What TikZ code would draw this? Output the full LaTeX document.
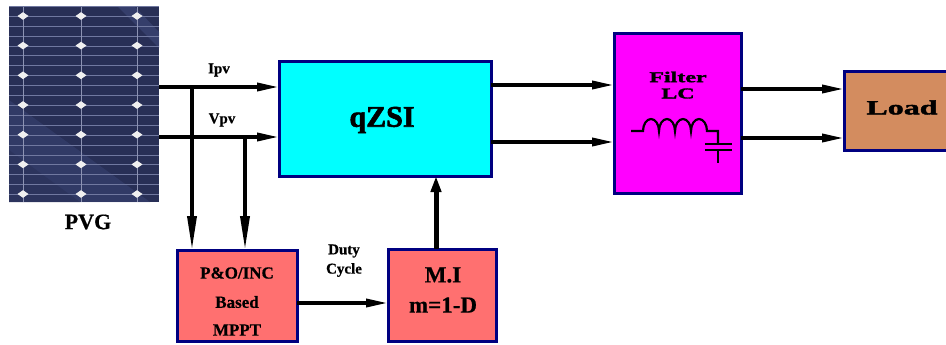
\documentclass[tikz,border=0pt]{standalone}
\usepackage{fontspec}
\usepackage{graphicx}
\setmainfont{Liberation Serif}[BoldFeatures={FakeBold=0.6}]
\newfontfamily\heavyfont{Liberation Serif}[BoldFeatures={FakeBold=2}]
\newfontfamily\wideheavy{Liberation Serif}[BoldFeatures={FakeBold=2.2,FakeStretch=1.6}]
\usetikzlibrary{arrows.meta,calc}
\definecolor{navy}{RGB}{0,0,128}
\definecolor{panelc}{RGB}{40,47,86}
\definecolor{panellight}{RGB}{62,72,122}
\definecolor{gridc}{RGB}{112,120,160}
\definecolor{qcyan}{RGB}{0,255,255}
\definecolor{fmag}{RGB}{255,0,255}
\definecolor{salmonc}{RGB}{255,112,112}
\definecolor{loadc}{RGB}{211,140,95}
\begin{document}
\begin{tikzpicture}[x=1pt,y=-1pt,
  block/.style={draw=navy,line width=3pt,inner sep=0pt,outer sep=0pt},
  wire/.style={line width=3.5pt,-{Triangle[length=22pt,width=8pt]}},
  downwire/.style={line width=3.5pt,-{Triangle[length=34pt,width=9pt]}},
  upwire/.style={line width=5pt,-{Triangle[length=16pt,width=10pt]}},
  txt/.style={font=\bfseries\fontsize{#1}{#1}\selectfont,inner sep=0pt,align=center},
  txt/.default=15]
\fill[white] (0,0) rectangle (946,345);
\useasboundingbox (0,0) rectangle (946,345);

% PV panel
\node[fill=panelc,minimum width=150pt,minimum height=195pt,inner sep=0pt,outer sep=0pt,anchor=north west] (pv) at (9,7) {};
\begin{scope}
  \clip (pv.north west) rectangle (pv.south east);
  \fill[panellight,opacity=0.6] (118,7) -- (135,7) -- (159,32) -- (159,48) -- cycle;
  \fill[panellight,opacity=0.45] (9,100) -- (150,202) -- (9,202) -- cycle;
  \fill[panelc,opacity=0.5] (9,150) -- (80,202) -- (9,202) -- cycle;
  \foreach \k in {0,...,19} \draw[gridc,line width=0.8pt] (9,{6.4+\k*9.9}) -- (159,{6.4+\k*9.9});
  \foreach \x in {23,81,137} \draw[gridc!80!white,line width=1pt] (\x,7) -- (\x,202);
  \foreach \x in {23,81,137} \foreach \y in {16,45.6,75.3,105,134.7,164.4,194}
    \fill[white!88!gray] (\x-5.5,\y) -- (\x,\y-3.8) -- (\x+5.5,\y) -- (\x,\y+3.8) -- cycle;
\end{scope}
\node[txt=22] (pvg) at (88,222) {PVG};

% blocks
\node[block,fill=qcyan,minimum width=212pt,minimum height=114pt] (q) at (385,119) {};
\node[font=\heavyfont\bfseries\fontsize{30}{30}\selectfont,inner sep=0pt] (qtxt) at (382,120) {qZSI};
\node[block,fill=fmag,minimum width=127pt,minimum height=159pt] (f) at (677.5,113.5) {};
\node[font=\wideheavy\bfseries\fontsize{15}{15}\selectfont,inner sep=0pt] (ftxt1) at (678,77) {Filter};
\node[font=\wideheavy\bfseries\fontsize{15}{15}\selectfont,inner sep=0pt] (ftxt2) at (678,93.5) {LC};
\node[block,fill=loadc,minimum width=114pt,minimum height=78pt] (ld) at (901,111) {};
\node[font=\wideheavy\bfseries\fontsize{20}{20}\selectfont,inner sep=0pt] (ldtxt) at (902,107.5) {Load};
\node[block,fill=salmonc,minimum width=120pt,minimum height=91pt] (po) at (237,295.5) {};
\node[txt=17] (potxt1) at (237,273) {P\&O/INC};
\node[txt=17] (potxt2) at (237,302) {Based};
\node[txt=17] (potxt3) at (237,330) {MPPT};
\node[block,fill=salmonc,minimum width=108pt,minimum height=92pt] (mi) at (442,295) {};
\node[txt=23] (mitxt1) at (443,275) {M.I};
\node[txt=23] (mitxt2) at (443,305) {m=1-D};
\node[txt=15] (duty) at (344,251) {Duty};
\node[txt=15] (cycle) at (344,270) {Cycle};
\node[txt=15] (ipv) at (219,70) {Ipv};
\node[txt=15] (vpv) at (222,120) {Vpv};

% inductor and capacitor
\draw[line width=2.2pt] (631,131) -- (643,131)
  arc[start angle=180,end angle=360,x radius=8,y radius=12]
  arc[start angle=180,end angle=360,x radius=8,y radius=12]
  arc[start angle=180,end angle=360,x radius=8,y radius=12]
  arc[start angle=180,end angle=360,x radius=8,y radius=12]
  -- (718,131) -- (718,144);
\draw[line width=2.2pt] (705,144) -- (732,144);
\draw[line width=2.2pt] (705,150) -- (732,150);
\draw[line width=2.2pt] (718,150) -- (718,163);

% connectors
\coordinate (yi) at (0,87);
\coordinate (yv) at (0,137);
\coordinate (yo1) at (0,85);
\coordinate (yo2) at (0,142);
\coordinate (yl1) at (0,89);
\coordinate (yl2) at (0,138);
\coordinate (yd) at (0,303);
\coordinate (xm) at (436,0);
\coordinate (ti) at (192,87);
\coordinate (tv) at (245,137);
\draw[wire] (pv.east |- yi) -- (q.west |- yi);
\draw[wire] (pv.east |- yv) -- (q.west |- yv);
\draw[downwire] (ti) -- (ti |- po.north);
\draw[downwire] (tv) -- (tv |- po.north);
\draw[wire] (q.east |- yo1) -- (f.west |- yo1);
\draw[wire] (q.east |- yo2) -- (f.west |- yo2);
\draw[wire] (f.east |- yl1) -- (ld.west |- yl1);
\draw[wire] (f.east |- yl2) -- (ld.west |- yl2);
\draw[wire] (po.east |- yd) -- (mi.west |- yd);
\draw[upwire] (mi.north -| xm) -- (q.south -| xm);
\end{tikzpicture}
\end{document}
